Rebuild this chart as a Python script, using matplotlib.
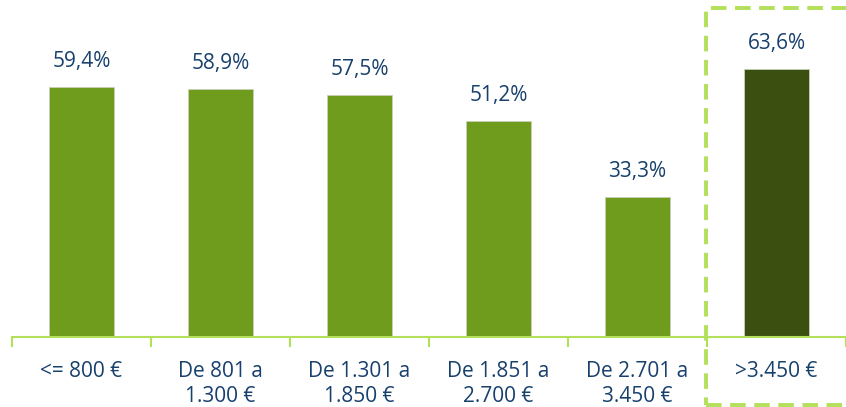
import matplotlib
matplotlib.use("Agg")
import matplotlib.pyplot as plt
from matplotlib.patches import Rectangle

categories = ["<= 800 €", "De 801 a\n1.300 €", "De 1.301 a\n1.850 €", "De 1.851 a\n2.700 €", "De 2.701 a\n3.450 €", ">3.450 €"]
values = [59.4, 58.9, 57.5, 51.2, 33.3, 63.6]
value_labels = ["59,4%", "58,9%", "57,5%", "51,2%", "33,3%", "63,6%"]

W, H = 846, 407
fig = plt.figure(figsize=(W / 100, H / 100), dpi=100)
ax = fig.add_axes([12 / W, 1 - 337 / H, 834 / W, 337 / H])

bar_col = "#6f9c1c"
dark_col = "#3b4f10"
text_col = "#17406d"
lime = "#b3e05a"

colors = [bar_col] * 5 + [dark_col]
x = list(range(len(categories)))
ax.bar(x, values, width=0.47, color=colors, edgecolor="#c8d0b8", linewidth=0.6, zorder=2)

for xi, v, lab in zip(x, values, value_labels):
    ax.text(xi, v + 4.75, lab, ha="center", va="baseline", fontsize=15,
            color=text_col, family="Open Sans")

ax.set_xlim(-0.5, 5.5)
ax.set_ylim(0, 80)
for s in ["top", "right", "left"]:
    ax.spines[s].set_visible(False)
ax.spines["bottom"].set_color(lime)
ax.spines["bottom"].set_linewidth(1.5)
ax.set_yticks([])
ax.set_xticks([i - 0.5 for i in range(len(categories) + 1)])
ax.set_xticklabels([])
ax.tick_params(axis="x", direction="out", length=7, width=1.5, color=lime)

for xi, cat in zip(x, categories):
    ax.text(xi, -5.6, cat, ha="center", va="top", fontsize=15, color=text_col,
            family="Open Sans", linespacing=1.3)

# dashed highlight box in pixel coordinates
rect = Rectangle((706 / W, 1 - 405 / H), 150 / W, 397 / H, transform=fig.transFigure,
                 fill=False, edgecolor=lime, linewidth=2.8, linestyle=(0, (4, 2.2)),
                 clip_on=False)
fig.patches.append(rect)

fig.savefig("out.png", dpi=100)
